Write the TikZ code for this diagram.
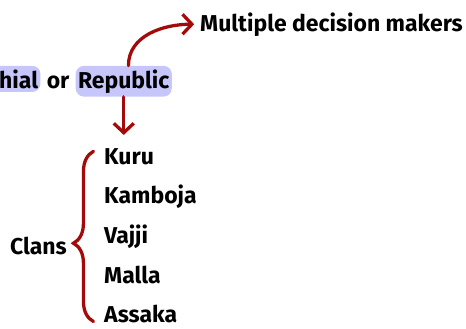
\documentclass[tikz,border=0pt]{standalone}
\usepackage{fontspec}
\setmainfont{Fira Sans}
\usepackage{tikz}
\usetikzlibrary{positioning,arrows.meta,decorations.pathreplacing}
\definecolor{arrowred}{HTML}{A30B0B}
\definecolor{hilite}{HTML}{C6C6FB}

\begin{document}
\begin{tikzpicture}[
    x=0.03cm, y=-0.03cm,
    word/.style={font=\fontsize{19.6}{23}\selectfont\bfseries, inner sep=0pt},
    marked/.style={word, fill=hilite, rounded corners=7pt, inner xsep=2pt, inner ysep=3pt},
    item/.style={word, anchor=base west},
    arrow/.style={-{Straight Barb[length=8pt,width=17pt]}, line width=2.8pt,
        color=arrowred, line cap=round, line join=round},
    bracket/.style={decorate, decoration={brace, amplitude=0.6cm, aspect=0.46},
        line width=2.8pt, color=arrowred, line cap=round}
]
    \useasboundingbox (0,0) rectangle (466,328);
    \clip (0,0) rectangle (466,328);

    % Top: decision makers
    \node[word, anchor=base west] (multi) at (200,31) {Multiple decision makers};

    % Middle: kind of state
    \node[marked, anchor=base east] (repub) at (172,88) {Republic};
    \node[word, anchor=base east] (or) at ([xshift=-5pt]repub.base west) {or};
    \node[marked, anchor=base east] (monarch) at ([xshift=-5pt]or.base west) {Monarchial};

    % Bottom: clans
    \node[item] (kuru) at (104,164) {Kuru};
    \node[item, below=1.19cm of kuru.base west, anchor=base west] (kamboja) {Kamboja};
    \node[item, below=1.19cm of kamboja.base west, anchor=base west] (vajji) {Vajji};
    \node[item, below=1.19cm of vajji.base west, anchor=base west] (malla) {Malla};
    \node[item, below=1.19cm of malla.base west, anchor=base west] (assaka) {Assaka};
    \node[word, anchor=base east] (clans) at (67,254) {Clans};

    % Arrows
    \draw[arrow] ([xshift=4pt]repub.north) to[out=90, in=180] ([xshift=-5pt]multi.west);
    \draw[arrow] (repub.south) -- ([yshift=11pt]kuru.north -| repub.south);
    \draw[bracket] ([xshift=-9pt, yshift=1pt]assaka.base west)
        -- ([xshift=-9pt, yshift=-3pt]kuru.north west);
\end{tikzpicture}
\end{document}
